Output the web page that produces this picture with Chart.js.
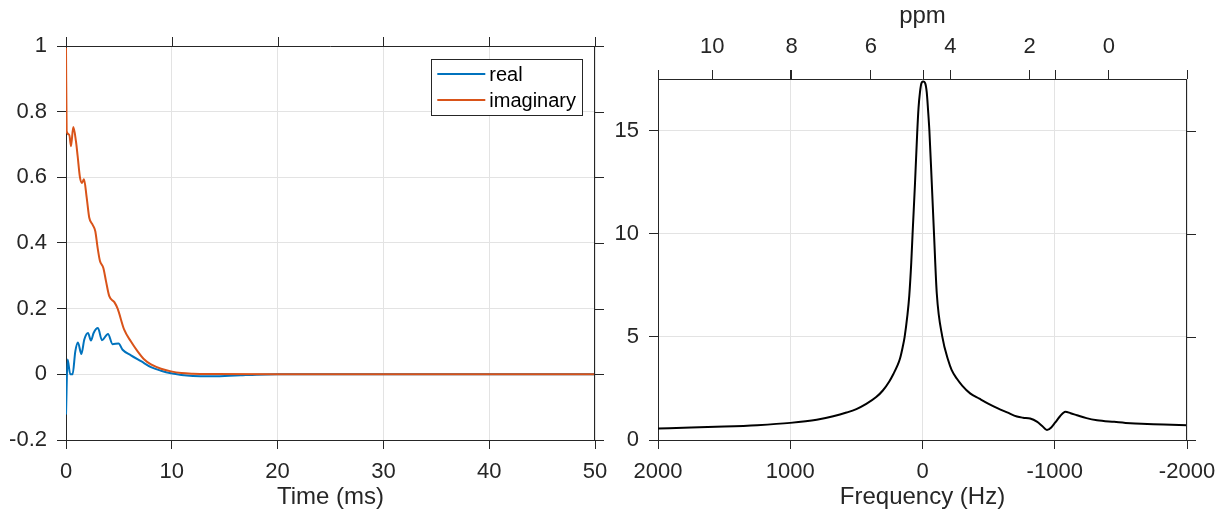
<!DOCTYPE html>
<html>
<head>
    <meta charset="UTF-8">
    <title>FID and spectrum</title>
    <script src="https://cdn.jsdelivr.net/npm/chart.js"></script>
    <style>
        html, body { margin: 0; padding: 0; background: #fff; }
        #wrap { position: relative; width: 1225px; height: 520px; }
        .panel { position: absolute; top: 0; height: 520px; }
        #left { left: 0; width: 612px; }
        #right { left: 612px; width: 613px; }
    </style>
</head>
<body>
<div id="wrap">
    <div class="panel" id="left"><canvas id="fidChart"></canvas></div>
    <div class="panel" id="right"><canvas id="specChart"></canvas></div>
</div>

<script>
    // FID, time in ms
    const realTime = [0, 0.15, 0.4, 0.62, 0.88, 1.13, 1.45, 1.73, 2.08, 2.36, 2.61, 3.02, 3.4, 3.97, 4.4, 4.97, 5.35, 6.14, 7.09, 8.03, 8.98, 9.92, 10.9, 12, 13.5, 15, 16.5, 18, 20, 30, 40, 50];
    const realPart = [-0.122, 0.045, 0.0, 0.0, 0.07, 0.097, 0.062, 0.106, 0.126, 0.103, 0.126, 0.141, 0.104, 0.123, 0.092, 0.094, 0.075, 0.058, 0.040, 0.022, 0.011, 0.003, -0.002, -0.005, -0.006, -0.005, -0.003, -0.001, 0, 0, 0, 0];

    const imagTime = [0, 0.06, 0.31, 0.47, 0.69, 0.94, 1.1, 1.32, 1.51, 1.7, 1.95, 2.2, 2.51, 2.77, 2.99, 3.21, 3.53, 3.78, 4.09, 4.57, 4.88, 5.5, 6.14, 6.77, 7.4, 8.03, 8.98, 9.92, 10.9, 12, 14, 20, 30, 40, 50];
    const imagPart = [0.995, 0.74, 0.73, 0.695, 0.753, 0.71, 0.665, 0.60, 0.583, 0.594, 0.54, 0.477, 0.456, 0.436, 0.385, 0.345, 0.324, 0.284, 0.238, 0.22, 0.2, 0.136, 0.10, 0.070, 0.045, 0.030, 0.017, 0.009, 0.004, 0.002, 0.001, 0, 0, 0, 0];
    const fidTicks = [-0.2, 0, 0.2, 0.4, 0.6, 0.8, 1];

    // spectrum magnitude vs frequency (Hz)
    const freqHz = [2000, 1750, 1500, 1250, 1000, 800, 675, 575, 500, 425, 350, 300, 250, 220, 190, 170, 150, 135, 115, 100, 85, 75, 57, 40, 30, 19, 8, -6, -20, -32, -42, -52, -70, -87, -108, -150, -195, -220, -259, -300, -360, -430, -500, -570, -640, -714, -760, -814, -865, -905, -941, -975, -1004, -1040, -1080, -1120, -1168, -1240, -1320, -1450, -1572, -1700, -1824, -2000];
    const magnitude = [0.56, 0.60, 0.65, 0.72, 0.83, 0.98, 1.15, 1.33, 1.50, 1.75, 2.08, 2.40, 2.85, 3.2, 3.6, 3.95, 4.5, 5.0, 6.0, 7.0, 8.6, 10.0, 12.4, 14.9, 16.1, 16.86, 17.3, 17.38, 17.3, 16.86, 16.0, 15.0, 12.47, 10.0, 7.1, 5.0, 3.85, 3.4, 2.98, 2.64, 2.26, 2.0, 1.75, 1.53, 1.34, 1.14, 1.08, 1.04, 0.89, 0.68, 0.48, 0.62, 0.85, 1.15, 1.37, 1.30, 1.20, 1.06, 0.96, 0.88, 0.81, 0.78, 0.75, 0.72];

    // top axis
    const ppmTicks = [0, 2, 4, 6, 8, 10];
    const ppmAtZeroHz = 4.7;
    const hzPerPpm = 300;

    const axisColor = '#262626';
    const gridColor = '#e3e3e3';
    const tickLen = 9;

    Chart.defaults.font.family = "'Liberation Sans', Arial, Helvetica, sans-serif";
    Chart.defaults.color = axisColor;
    Chart.defaults.animation = false;

    const tickFont = { size: 22 };
    const titleFont = { size: 24 };

    // box around plot area + mirrored ticks on top / right
    const boxTicks = {
        id: 'boxTicks',
        afterDraw(chart) {
            const { ctx, chartArea: a, scales } = chart;
            ctx.save();
            ctx.strokeStyle = axisColor;
            ctx.lineWidth = 1;
            ctx.beginPath();
            ctx.moveTo(a.left, a.top + 0.5);
            ctx.lineTo(a.right, a.top + 0.5);
            ctx.moveTo(a.right - 0.5, a.top);
            ctx.lineTo(a.right - 0.5, a.bottom);
            scales.x.ticks.forEach(t => {
                const px = Math.round(scales.x.getPixelForValue(t.value)) + 0.5;
                ctx.moveTo(px, a.top);
                ctx.lineTo(px, a.top - tickLen);
            });
            scales.y.ticks.forEach(t => {
                const py = Math.round(scales.y.getPixelForValue(t.value)) + 0.5;
                ctx.moveTo(a.right, py);
                ctx.lineTo(a.right + tickLen, py);
            });
            ctx.stroke();
            ctx.restore();
        }
    };

    // legend box inside the plot, top right
    const insideLegend = {
        id: 'insideLegend',
        afterDraw(chart) {
            const { ctx, chartArea: a } = chart;
            const sets = chart.data.datasets;
            ctx.save();
            ctx.font = "20px 'Liberation Sans', Arial, sans-serif";
            let textW = 0;
            sets.forEach(d => { textW = Math.max(textW, ctx.measureText(d.label).width); });
            const w = 58 + textW + 6;
            const h = 56;
            const x = a.right - 13 - w;
            const y = a.top + 13;
            ctx.fillStyle = '#fff';
            ctx.fillRect(x, y, w, h);
            ctx.strokeStyle = axisColor;
            ctx.lineWidth = 1;
            ctx.strokeRect(Math.round(x) + 0.5, y + 0.5, Math.round(w), h);
            sets.forEach((d, i) => {
                const cy = y + 15 + i * 26;
                ctx.strokeStyle = d.borderColor;
                ctx.lineWidth = 2;
                ctx.beginPath();
                ctx.moveTo(x + 6, cy);
                ctx.lineTo(x + 54, cy);
                ctx.stroke();
                ctx.fillStyle = '#000';
                ctx.textBaseline = 'middle';
                ctx.fillText(d.label, x + 58, cy + 1);
            });
            ctx.restore();
        }
    };

    function toPoints(xs, ys) {
        return xs.map((v, i) => ({ x: v, y: ys[i] }));
    }

    // keep the plot box where it is, whatever the edge labels need
    function noEdgePadding(s) {
        s.paddingLeft = 0;
        s.paddingRight = 0;
        s.paddingTop = 0;
        s.paddingBottom = 0;
    }

    new Chart(document.getElementById('fidChart'), {
        type: 'line',
        data: {
            datasets: [
                {
                    label: 'real',
                    data: toPoints(realTime, realPart),
                    borderColor: '#0072BD',
                    borderWidth: 2,
                    pointRadius: 0,
                    cubicInterpolationMode: 'monotone',
                    order: 1
                },
                {
                    label: 'imaginary',
                    data: toPoints(imagTime, imagPart),
                    borderColor: '#D95319',
                    borderWidth: 2,
                    pointRadius: 0,
                    cubicInterpolationMode: 'monotone',
                    order: 0
                }
            ]
        },
        options: {
            responsive: true,
            maintainAspectRatio: false,
            layout: { padding: { top: 46, right: 17, left: 0, bottom: 0 } },
            plugins: { legend: { display: false }, tooltip: { enabled: false } },
            scales: {
                x: {
                    type: 'linear',
                    min: 0, max: 50,
                    ticks: { stepSize: 10, font: tickFont, padding: 10, autoSkip: false, maxRotation: 0 },
                    grid: { color: gridColor, tickColor: axisColor, tickLength: tickLen },
                    border: { color: axisColor },
                    title: { display: true, text: 'Time (ms)', font: titleFont, padding: { top: 0, bottom: 8 } },
                    afterFit(s) { s.height = 80; noEdgePadding(s); }
                },
                y: {
                    min: -0.2, max: 1,
                    afterBuildTicks(s) { s.ticks = fidTicks.map(v => ({ value: v })); },
                    ticks: { font: tickFont, padding: 10, autoSkip: false, callback: v => String(v) },
                    grid: { color: gridColor, tickColor: axisColor, tickLength: tickLen },
                    border: { color: axisColor },
                    afterFit(s) { s.width = 66; noEdgePadding(s); }
                }
            }
        },
        plugins: [boxTicks, insideLegend]
    });

    new Chart(document.getElementById('specChart'), {
        type: 'line',
        data: {
            datasets: [{
                label: 'spectrum',
                data: toPoints(freqHz, magnitude),
                borderColor: '#000000',
                borderWidth: 2,
                pointRadius: 0,
                cubicInterpolationMode: 'monotone'
            }]
        },
        options: {
            responsive: true,
            maintainAspectRatio: false,
            layout: { padding: { top: 0, right: 38, left: 0, bottom: 0 } },
            plugins: { legend: { display: false }, tooltip: { enabled: false } },
            scales: {
                x: {
                    type: 'linear',
                    reverse: true,
                    min: -2000, max: 2000,
                    ticks: { stepSize: 1000, font: tickFont, padding: 10, autoSkip: false, maxRotation: 0, callback: v => String(v) },
                    grid: { color: gridColor, tickColor: axisColor, tickLength: tickLen },
                    border: { color: axisColor },
                    title: { display: true, text: 'Frequency (Hz)', font: titleFont, padding: { top: 0, bottom: 8 } },
                    afterFit(s) { s.height = 80; noEdgePadding(s); }
                },
                ppm: {
                    type: 'linear',
                    position: 'top',
                    reverse: true,
                    min: ppmAtZeroHz - 2000 / hzPerPpm,
                    max: ppmAtZeroHz + 2000 / hzPerPpm,
                    afterBuildTicks(s) { s.ticks = ppmTicks.map(v => ({ value: v })); },
                    ticks: { font: tickFont, padding: 10, autoSkip: false, maxRotation: 0, callback: v => String(v) },
                    grid: { drawOnChartArea: false, tickColor: axisColor, tickLength: tickLen },
                    border: { display: false },
                    title: { display: true, text: 'ppm', font: titleFont, padding: { top: 2, bottom: 0 } },
                    afterFit(s) { s.height = 79; noEdgePadding(s); }
                },
                y: {
                    min: 0, max: 17.5,
                    afterBuildTicks(s) { s.ticks = s.ticks.filter(t => t.value % 5 === 0); },
                    ticks: { stepSize: 5, font: tickFont, padding: 10 },
                    grid: { color: gridColor, tickColor: axisColor, tickLength: tickLen },
                    border: { color: axisColor },
                    afterFit(s) { s.width = 46; noEdgePadding(s); }
                }
            }
        },
        plugins: [boxTicks]
    });
</script>
</body>
</html>
